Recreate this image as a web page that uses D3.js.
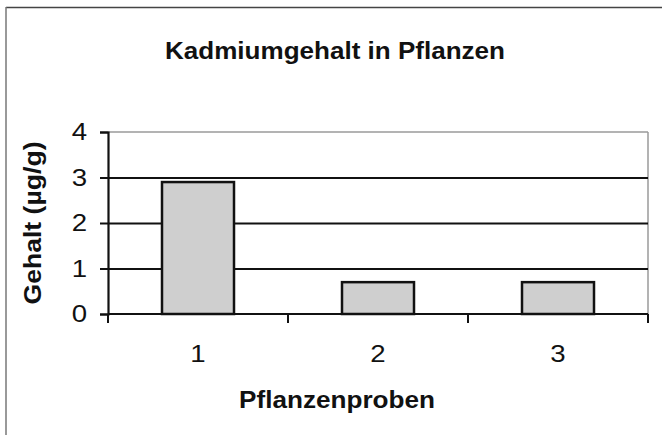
<!DOCTYPE html>
<html>
<head>
<meta charset="utf-8">
<script src="https://cdn.jsdelivr.net/npm/d3@7"></script>
<style>
  html, body { margin: 0; padding: 0; background: #fff; }
  svg { display: block; font-family: "Liberation Sans", Arial, Helvetica, sans-serif; }
</style>
</head>
<body>
<svg id="chart" width="662" height="435"></svg>
<script>
const categories = ["1", "2", "3"];
const values = [2.9, 0.7, 0.7];
const yTicks = [0, 1, 2, 3, 4];
const title = "Kadmiumgehalt in Pflanzen";
const xTitle = "Pflanzenproben";
const yTitle = "Gehalt (µg/g)";

const svg = d3.select("#chart");
const m = { left: 108, right: 648, top: 132, bottom: 314 };
const stretch = 1.15;

// outer frame (top and left edges visible)
svg.append("line").attr("x1", 6).attr("x2", 662).attr("y1", 7.5).attr("y2", 7.5)
  .attr("stroke", "#444").attr("stroke-width", 1.5);
svg.append("line").attr("x1", 6).attr("x2", 6).attr("y1", 7).attr("y2", 435)
  .attr("stroke", "#777").attr("stroke-width", 1.5);

const x = d3.scaleBand().domain(categories).range([m.left, m.right])
  .paddingInner(0.6).paddingOuter(0.3);
const y = d3.scaleLinear().domain([0, 4]).range([m.bottom, m.top]);

// plot frame top/right (grey)
svg.append("line").attr("x1", m.left).attr("x2", m.right).attr("y1", y(4)).attr("y2", y(4))
  .attr("stroke", "#9a9a9a").attr("stroke-width", 1.5);
svg.append("line").attr("x1", m.right).attr("x2", m.right).attr("y1", y(4)).attr("y2", y(0))
  .attr("stroke", "#9a9a9a").attr("stroke-width", 1.5);

// gridlines
const grid = svg.append("g").attr("transform", `translate(${m.left},0)`)
  .call(d3.axisLeft(y).tickValues(yTicks.filter(t => t > 0 && t < 4)).tickSize(-(m.right - m.left)).tickFormat(""));
grid.select(".domain").remove();
grid.selectAll("line").attr("stroke", "#111").attr("stroke-width", 2);

// bars
svg.append("g").selectAll("rect").data(categories).join("rect")
  .attr("x", d => x(d))
  .attr("width", x.bandwidth())
  .attr("y", (d, i) => y(values[i]))
  .attr("height", (d, i) => y(0) - y(values[i]))
  .attr("fill", "#cfcfcf")
  .attr("stroke", "#111")
  .attr("stroke-width", 2.5);

function stretchText(sel) {
  sel.each(function () {
    const w = this.getComputedTextLength();
    d3.select(this).attr("textLength", w * stretch).attr("lengthAdjust", "spacingAndGlyphs");
  });
}

// y axis
const yAxis = svg.append("g").attr("transform", `translate(${m.left},0)`)
  .call(d3.axisLeft(y).tickValues(yTicks).tickSize(8).tickPadding(13).tickFormat(d3.format("d")));
yAxis.select(".domain").attr("stroke", "#111").attr("stroke-width", 2.2);
yAxis.selectAll(".tick line").attr("stroke", "#111").attr("stroke-width", 2);
yAxis.selectAll("text").attr("font-size", 24).attr("fill", "#111")
  .attr("font-family", "Liberation Sans, Arial, sans-serif").call(stretchText);

// x axis
const xAxis = svg.append("g").attr("transform", `translate(0,${m.bottom})`)
  .call(d3.axisBottom(x).tickSize(0).tickPadding(31));
xAxis.select(".domain").attr("stroke", "#111").attr("stroke-width", 2.2).attr("d", `M${m.left},0H${m.right}`);
xAxis.selectAll("text").attr("font-size", 24).attr("fill", "#111")
  .attr("font-family", "Liberation Sans, Arial, sans-serif").call(stretchText);
// boundary ticks between categories
const bounds = d3.range(categories.length + 1).map(i => m.left + i * x.step());
xAxis.selectAll(".bound").data(bounds).join("line").attr("class", "bound")
  .attr("x1", d => d).attr("x2", d => d).attr("y1", 0).attr("y2", 9)
  .attr("stroke", "#111").attr("stroke-width", 2);

// titles
svg.append("text").attr("x", 335).attr("y", 59).attr("text-anchor", "middle")
  .attr("font-size", 24).attr("font-weight", "bold").attr("fill", "#111")
  .attr("textLength", 340).attr("lengthAdjust", "spacingAndGlyphs")
  .text(title);
svg.append("text").attr("x", 337).attr("y", 408).attr("text-anchor", "middle")
  .attr("font-size", 24).attr("font-weight", "bold").attr("fill", "#111")
  .attr("textLength", 196).attr("lengthAdjust", "spacingAndGlyphs")
  .text(xTitle);
svg.append("text").attr("transform", "translate(41,223) rotate(-90)").attr("text-anchor", "middle")
  .attr("font-size", 23).attr("font-weight", "bold").attr("fill", "#111")
  .attr("textLength", 163).attr("lengthAdjust", "spacingAndGlyphs")
  .text(yTitle);
</script>
</body>
</html>
